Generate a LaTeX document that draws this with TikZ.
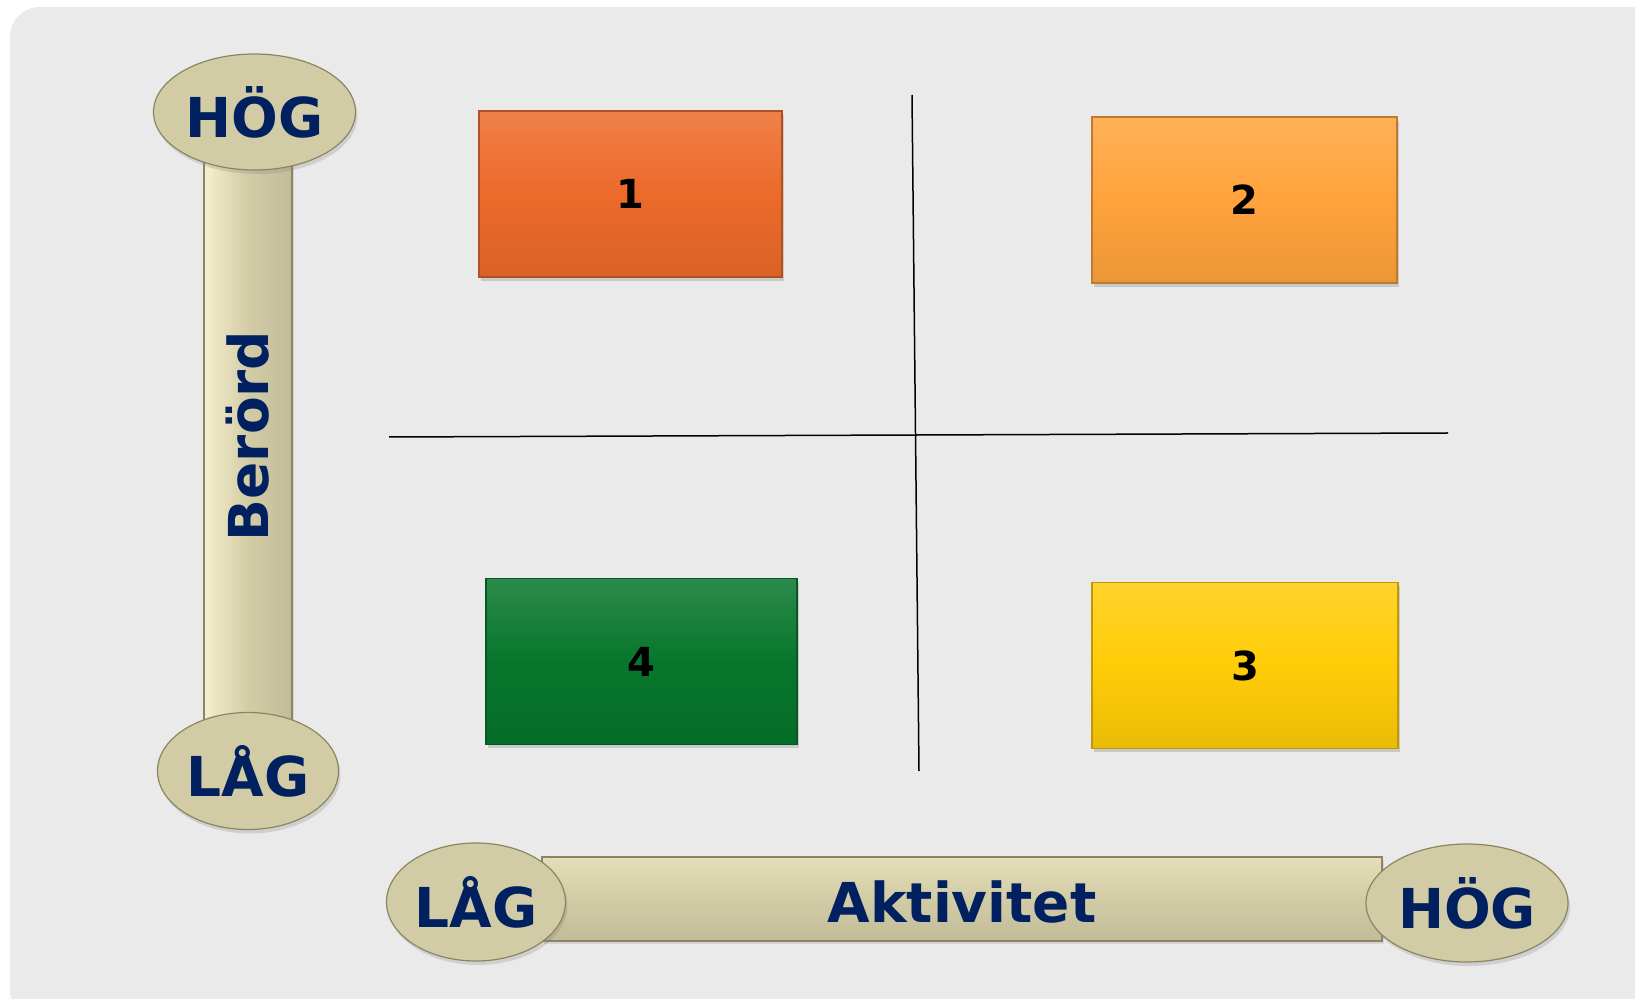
\documentclass[tikz,border=0pt]{standalone}
\usepackage{fontspec}
\setmainfont{DejaVu Sans}
\usepackage{tikz}
\usetikzlibrary{shapes,shadows,calc,positioning}
\definecolor{fondo}{RGB}{234, 234, 234}
\definecolor{arena}{RGB}{210, 204, 166}
\definecolor{arenaOscuro}{RGB}{140, 134, 96}
\definecolor{arenaClaro}{RGB}{245, 240, 205}
\definecolor{azulOscuro}{RGB}{0, 32, 96}
\definecolor{naranja}{RGB}{236, 106, 42}
\definecolor{naranjaClaro}{RGB}{255, 163, 60}
\definecolor{amarillo}{RGB}{255, 204, 7}
\definecolor{verde}{RGB}{7, 118, 44}
\tikzstyle{pill}  =[ellipse, draw=arenaOscuro, fill=arena, line width=0.6pt,
                    inner sep=0pt, text=azulOscuro,
                    font=\fontsize{27.5}{33}\selectfont\bfseries,
                    drop shadow={opacity=0.25, shadow xshift=1pt, shadow yshift=-2pt}]
\tikzstyle{bar}   =[draw=arenaOscuro, line width=0.6pt,
                    drop shadow={opacity=0.2, shadow xshift=1pt, shadow yshift=-1.5pt}]
\tikzstyle{qbox}  =[rectangle, line width=0.8pt,
                    minimum height=83pt, inner sep=0pt,
                    font=\fontsize{20}{24}\selectfont\bfseries,
                    drop shadow={opacity=0.3, shadow xshift=1pt, shadow yshift=-2pt}]
\tikzstyle{axis}  =[line width=0.75pt, black]

\begin{document}
\begin{tikzpicture}[x=0.5pt,y=-0.5pt]
    \useasboundingbox (0,0) rectangle (1635,999);
    \clip (0,0) rectangle (1635,999);
    \fill[white] (0,0) rectangle (1635,999);
    \fill[fondo, rounded corners=15pt] (10,7) rectangle (1660,1020);

    % quadrant lines
    \coordinate (vtop) at (912,95);
    \coordinate (vbot) at (919,771);
    \coordinate (hleft) at (389,437);
    \coordinate (hright) at (1448,433);
    \draw[axis] (vtop) -- (vbot);
    \draw[axis] (hleft) -- (hright);

    % boxes
    \foreach \n/\x/\y/\w/\c in {1/630.5/194/151.5/naranja,2/1244.5/200/152.5/naranjaClaro,
                                3/1245/665.5/153/amarillo,4/641.5/661.5/155.5/verde}
        \draw (\x,\y) node(box\n)[qbox, minimum width=\w pt, draw=\c!75!black,
                                  top color=\c!85!white, bottom color=\c!92!black,
                                  middle color=\c]{\n};

    % vertical axis, Berörd
    \coordinate (vbarA) at (204,160);
    \coordinate (vbarB) at (292,725);
    \draw[bar, left color=arenaClaro, right color=arena!92!black, middle color=arena]
        (vbarA) rectangle (vbarB);
    \draw (248,436) node(berord)[rotate=90, text=azulOscuro,
        font=\fontsize{27.5}{33}\selectfont\bfseries]{Berörd};
    \draw (254.5,112) node(hogY)[pill, minimum width=101pt, minimum height=58pt]{HÖG};
    \draw (248,771) node(lagY)[pill, minimum width=90.5pt, minimum height=58.5pt]{LÅG};

    % horizontal axis, Aktivitet
    \coordinate (hbarA) at (542,857);
    \coordinate (hbarB) at (1382,941);
    \draw[bar, top color=arenaClaro!50!arena, bottom color=arena!92!black, middle color=arena]
        (hbarA) rectangle (hbarB);
    \draw (962,902) node(aktiv)[text=azulOscuro,
        font=\fontsize{27.5}{33}\selectfont\bfseries]{Aktivitet};
    \draw (476,902) node(lagX)[pill, minimum width=89.5pt, minimum height=59pt]{LÅG};
    \draw (1467,903) node(hogX)[pill, minimum width=101pt, minimum height=59pt]{HÖG};

\end{tikzpicture}
\end{document}
